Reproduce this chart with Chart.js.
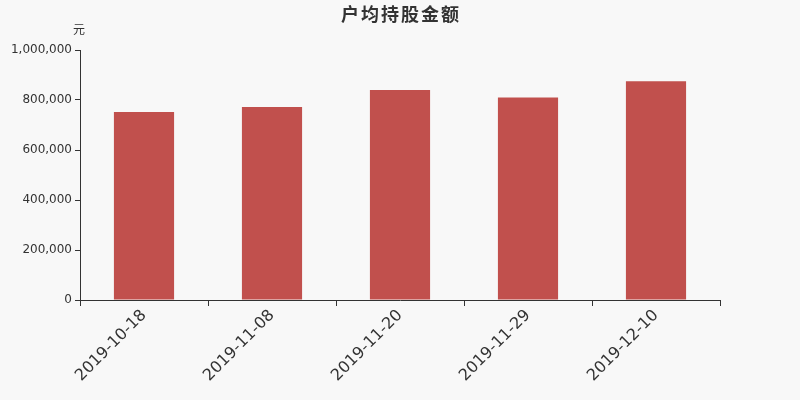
<!DOCTYPE html>
<html lang="zh">
<head>
  <meta charset="UTF-8" />
  <title>户均持股金额</title>
  <script src="https://cdn.jsdelivr.net/npm/chart.js"></script>
  <style>
    html, body {
      margin: 0;
      padding: 0;
      background: #f8f8f8;
    }
    .box {
      width: 800px;
      height: 400px;
      position: relative;
    }
  </style>
</head>
<body>
  <div class="box"><canvas id="chart"></canvas></div>
  <script>
    const categories = ["2019-10-18", "2019-11-08", "2019-11-20", "2019-11-29", "2019-12-10"];
    const amounts = [752000, 772000, 840000, 810000, 875000];
    const yTicks = [0, 200000, 400000, 600000, 800000, 1000000];

    const titleText = "户均持股金额";
    const unitText = "元";

    // title and unit label drawn on the canvas
    const headerPlugin = {
      id: "header",
      afterDraw(chart) {
        const ctx = chart.ctx;
        ctx.save();
        ctx.fillStyle = "#333";
        ctx.textAlign = "center";
        ctx.textBaseline = "middle";
        ctx.letterSpacing = "2px";
        ctx.font = "bold 18px 'Noto Sans CJK SC', sans-serif";
        ctx.fillText(titleText, 401, 14);
        ctx.letterSpacing = "0px";
        ctx.font = "12px 'Noto Sans CJK SC', sans-serif";
        ctx.fillText(unitText, chart.chartArea.left - 1, 29);
        ctx.restore();
      }
    };

    new Chart(document.getElementById("chart"), {
      type: "bar",
      data: {
        labels: categories,
        datasets: [{
          data: amounts,
          backgroundColor: "#c1504d",
          barPercentage: 0.94,
          categoryPercentage: 0.5
        }]
      },
      options: {
        responsive: true,
        maintainAspectRatio: false,
        animation: false,
        layout: {
          padding: { top: 50, right: 80, left: 0, bottom: 0 }
        },
        plugins: {
          legend: { display: false },
          title: { display: false },
          tooltip: { enabled: false }
        },
        scales: {
          x: {
            offset: true,
            grid: {
              offset: true,
              drawOnChartArea: false,
              color: "#333",
              tickLength: 6
            },
            border: { color: "#333", width: 1 },
            ticks: {
              color: "#333",
              maxRotation: 45,
              minRotation: 45,
              padding: 0,
              font: { family: "'DejaVu Sans', sans-serif", size: 16 }
            },
            afterFit(scale) { scale.height = 100; }
          },
          y: {
            min: 0,
            max: 1000000,
            afterBuildTicks(scale) {
              scale.ticks = yTicks.map(v => ({ value: v }));
            },
            grid: {
              drawOnChartArea: false,
              color: "#333",
              tickLength: 5
            },
            border: { color: "#333", width: 1 },
            ticks: {
              color: "#333",
              padding: 3,
              font: { family: "'DejaVu Sans', sans-serif", size: 12 },
              callback: v => v.toLocaleString("en-US")
            },
            afterFit(scale) { scale.width = 80; }
          }
        }
      },
      plugins: [headerPlugin]
    });
  </script>
</body>
</html>
